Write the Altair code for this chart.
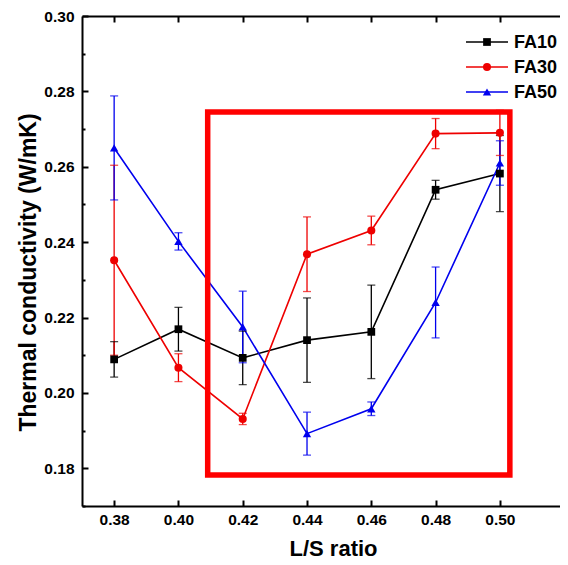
import altair as alt
import pandas as pd

ratios = [0.38, 0.40, 0.42, 0.44, 0.46, 0.48, 0.50]
series_names = ["FA10", "FA30", "FA50"]
fa10 = [0.2089, 0.2169, 0.2093, 0.2140, 0.2162, 0.2539, 0.2582]
fa10_err = [0.0047, 0.0058, 0.0071, 0.0112, 0.0124, 0.0025, 0.0101]
fa30 = [0.2352, 0.2067, 0.1931, 0.2368, 0.2431, 0.2688, 0.2690]
fa30_err = [0.0252, 0.0037, 0.0015, 0.0099, 0.0038, 0.0040, 0.0060]
fa50 = [0.2650, 0.2402, 0.2175, 0.1892, 0.1958, 0.2240, 0.2610]
fa50_err = [0.0138, 0.0023, 0.0095, 0.0057, 0.0018, 0.0094, 0.0059]
colors = ["#000000", "#ee0000", "#0000ee"]
marker_shapes = ["square", "circle", "triangle-up"]
marker_sizes = [60, 70, 110]
legend_rows = [0, 1, 2]

box_x = [0.4091, 0.5031]
box_y = [0.1782, 0.2745]

major_x = [0.38, 0.40, 0.42, 0.44, 0.46, 0.48, 0.50]
major_y = [0.18, 0.20, 0.22, 0.24, 0.26, 0.28, 0.30]
minor_y = [0.17, 0.19, 0.21, 0.23, 0.25, 0.27, 0.29]

rows = []
for name, vals, errs in [("FA10", fa10, fa10_err), ("FA30", fa30, fa30_err), ("FA50", fa50, fa50_err)]:
    for r, v, e in zip(ratios, vals, errs):
        rows.append({"series": name, "ratio": r, "tc": v, "lo": v - e, "hi": v + e})
df = pd.DataFrame(rows)
box_df = pd.DataFrame({"x1": [box_x[0]], "x2": [box_x[1]], "y1": [box_y[0]], "y2": [box_y[1]]})
leg_df = pd.DataFrame({"series": series_names, "row": legend_rows})

FONT = "Liberation Sans"
xscale = alt.Scale(domain=[0.37, 0.5187], nice=False, zero=False)
yscale = alt.Scale(domain=[0.17, 0.30], nice=False, zero=False)
cscale = alt.Scale(domain=series_names, range=colors)


def ax(**kw):
    base = dict(grid=False, title=None, labels=False, ticks=False, domain=False)
    base.update(kw)
    return alt.Axis(**base)


main_x = ax(orient="bottom", values=major_x, format=".2f", labels=True, domain=True,
            domainColor="black", domainWidth=2, labelFont=FONT, labelFontSize=15.5,
            labelFontWeight="bold", labelColor="black", labelPadding=6,
            title="L/S ratio", titleFont=FONT, titleFontSize=22, titleFontWeight="bold",
            titleColor="black", titleX=251, titleY=49, titleAlign="center",
            titleBaseline="alphabetic")
main_y = ax(orient="left", values=major_y, format=".2f", labels=True, domain=True,
            domainColor="black", domainWidth=2, labelFont=FONT, labelFontSize=15.5,
            labelFontWeight="bold", labelColor="black", labelPadding=8,
            title="Thermal conductivity (W/mK)", titleFont=FONT, titleFontSize=23,
            titleFontWeight="bold", titleColor="black", titleX=-47, titleY=256,
            titleAlign="center", titleBaseline="alphabetic", titleAngle=270)
tick_bottom = ax(orient="bottom", values=major_x, ticks=True, tickSize=6, tickWidth=2,
                 tickColor="black", offset=-6)
tick_left = ax(orient="left", values=major_y, ticks=True, tickSize=6, tickWidth=2,
               tickColor="black", offset=-6)
top_domain = ax(orient="top", values=major_x, domain=True, domainColor="black", domainWidth=2)
minor_left = ax(orient="left", values=minor_y, ticks=True, tickSize=3, tickWidth=2,
                tickColor="black", offset=-3)
tick_top = ax(orient="top", values=major_x, ticks=True, tickSize=6, tickWidth=2,
              tickColor="black", offset=-6)

base = alt.Chart(df)
col = alt.Color("series:N", scale=cscale, legend=None)

lines = base.mark_line(strokeWidth=1.6).encode(
    x=alt.X("ratio:Q", scale=xscale, axis=main_x),
    y=alt.Y("tc:Q", scale=yscale, axis=main_y),
    color=col, detail="series:N")

bars = base.mark_rule(strokeWidth=1.3).encode(
    x=alt.X("ratio:Q", scale=xscale, axis=tick_bottom),
    y=alt.Y("lo:Q", scale=yscale, axis=tick_left),
    y2="hi:Q", color=col)

caps_lo = base.mark_tick(orient="horizontal", size=8, thickness=1.3).encode(
    x=alt.X("ratio:Q", scale=xscale, axis=top_domain),
    y=alt.Y("lo:Q", scale=yscale, axis=minor_left),
    color=col)

caps_hi = base.mark_tick(orient="horizontal", size=8, thickness=1.3).encode(
    x=alt.X("ratio:Q", scale=xscale, axis=tick_top),
    y=alt.Y("hi:Q", scale=yscale, axis=None),
    color=col)

shape_enc = alt.Shape("series:N", scale=alt.Scale(domain=series_names, range=marker_shapes),
                      legend=None)
size_enc = alt.Size("series:N", scale=alt.Scale(domain=series_names, range=marker_sizes),
                    legend=None)

points = base.mark_point(filled=True, opacity=1).encode(
    x=alt.X("ratio:Q", scale=xscale, axis=None),
    y=alt.Y("tc:Q", scale=yscale, axis=None),
    color=col, shape=shape_enc, size=size_enc)

box = alt.Chart(box_df).mark_rect(filled=False, stroke="#ff0000", strokeWidth=5.5).encode(
    x=alt.X("x1:Q", scale=xscale, axis=None),
    x2="x2:Q",
    y=alt.Y("y1:Q", scale=yscale, axis=None),
    y2="y2:Q")

data_part = alt.layer(lines, bars, caps_lo, caps_hi, points, box).resolve_axis(
    x="independent", y="independent")

# hand-drawn legend (line + marker + label), rows placed by a linear scale
leg_y = alt.Y("row:Q", scale=alt.Scale(domain=[0, 2], range=[26, 76], nice=False, zero=False),
              axis=None)
leg_base = alt.Chart(leg_df)
leg_lines = leg_base.mark_rule(strokeWidth=1.6).encode(
    x=alt.value(384), x2=alt.value(426), y=leg_y, color=col)
leg_points = leg_base.mark_point(filled=True, opacity=1).encode(
    x=alt.value(405), y=leg_y, color=col, shape=shape_enc, size=size_enc)
leg_text = leg_base.mark_text(align="left", baseline="middle", font=FONT, fontSize=18,
                              fontWeight="bold", color="black", dy=1).encode(
    x=alt.value(432), y=leg_y, text="series:N")
legend_part = alt.layer(leg_lines, leg_points, leg_text)

chart = alt.layer(data_part, legend_part).resolve_scale(y="independent").properties(
    width=478, height=490,
    padding={"left": 74, "top": 8, "right": 0, "bottom": 51},
    autosize=alt.AutoSizeParams(type="none"),
    background="white",
).configure_view(stroke=None)

chart.save("out.html", embed_options={"renderer": "svg", "actions": False})
